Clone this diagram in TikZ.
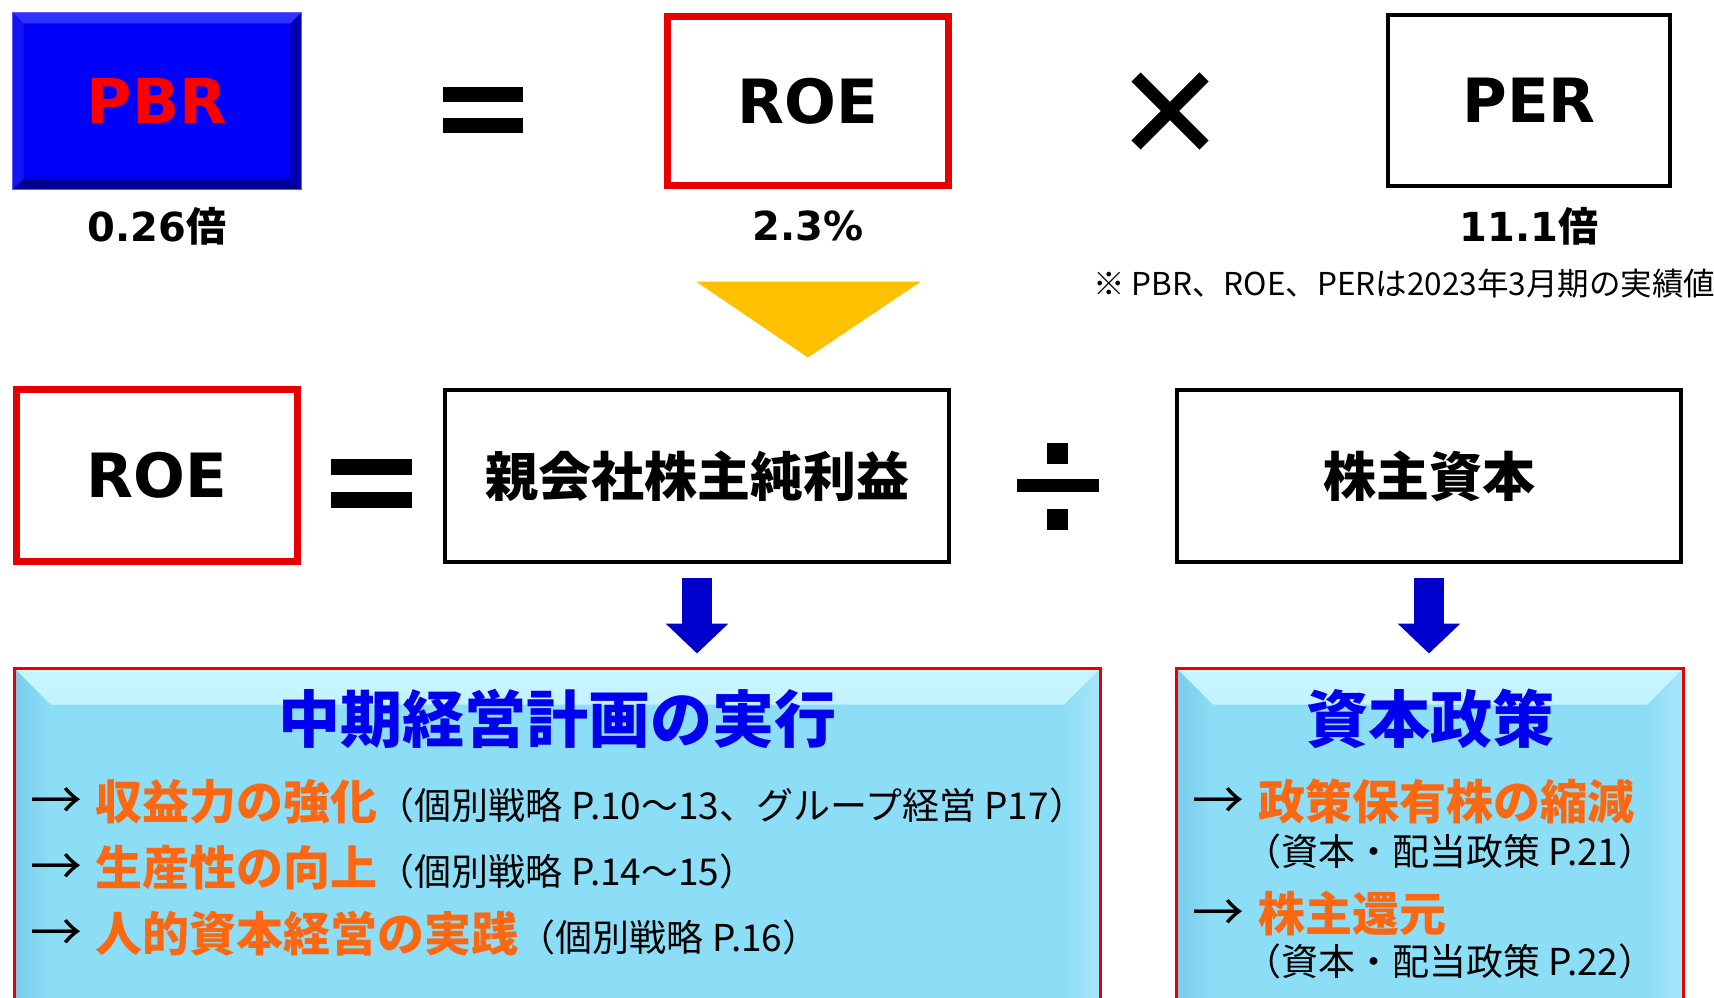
\documentclass[tikz,border=0pt]{standalone}
\usepackage{fontspec}
\setmainfont{DejaVu Sans}
\newfontfamily\jp{Noto Sans CJK JP}
\usetikzlibrary{arrows.meta,calc}
\definecolor{pbrblue}{RGB}{0,0,250}
\definecolor{pbrline}{RGB}{90,90,255}
\definecolor{pbrtop}{RGB}{50,50,255}
\definecolor{pbrleft}{RGB}{20,20,245}
\definecolor{pbrright}{RGB}{0,0,175}
\definecolor{pbrbottom}{RGB}{0,0,150}
\definecolor{pbrred}{RGB}{255,0,0}
\definecolor{boxred}{RGB}{232,0,0}
\definecolor{boxcyan}{RGB}{140,221,246}
\definecolor{bevtop}{RGB}{200,245,255}
\definecolor{bevleft}{RGB}{122,204,234}
\definecolor{bevright}{RGB}{170,230,250}
\definecolor{orng}{RGB}{252,104,18}
\definecolor{titleblue}{RGB}{0,0,238}
\definecolor{arrowblue}{RGB}{0,0,204}
\definecolor{ylw}{RGB}{255,192,0}
\newcommand\orangetxt[1]{{\fontsize{47}{54}\selectfont\bfseries\color{orng}#1}}
\newcommand\itemarrow{{\fontsize{52}{58}\selectfont →\hspace{14pt}}}
\begin{document}
\begin{tikzpicture}[x=1pt,y=-1pt,
  every node/.style={inner sep=0pt, outer sep=0pt},
  opbox/.style={draw=black, line width=4pt, fill=white},
  redbox/.style={draw=boxred, line width=7pt, fill=white},
  pbrbox/.style={draw=pbrline, line width=1.5pt, fill=pbrblue,
    path picture={
      \fill[pbrtop] (path picture bounding box.north west) -- (path picture bounding box.north east) -- ++(-11,11) -- ($(path picture bounding box.north west)+(11,11)$) -- cycle;
      \fill[pbrbottom] (path picture bounding box.south west) -- (path picture bounding box.south east) -- ++(-11,-11) -- ($(path picture bounding box.south west)+(11,-11)$) -- cycle;
      \fill[pbrleft] (path picture bounding box.north west) -- ++(11,11) -- ($(path picture bounding box.south west)+(11,-11)$) -- (path picture bounding box.south west) -- cycle;
      \fill[pbrright] (path picture bounding box.north east) -- ++(-11,11) -- ($(path picture bounding box.south east)+(-11,-11)$) -- (path picture bounding box.south east) -- cycle;
    }},
  cyanbox/.style={draw=boxred, line width=3pt, fill=boxcyan, anchor=north west,
    minimum height=380,
    path picture={
      \shade[top color=bevtop, bottom color=boxcyan] (path picture bounding box.north west) -- (path picture bounding box.north east) -- ++(-36,36) -- ($(path picture bounding box.north west)+(36,36)$) -- cycle;
      \shade[left color=bevleft, right color=boxcyan] (path picture bounding box.north west) -- ++(36,36) -- ($(path picture bounding box.south west)+(36,-36)$) -- (path picture bounding box.south west) -- cycle;
      \shade[left color=boxcyan, right color=bevright] (path picture bounding box.north east) -- ++(-36,36) -- ($(path picture bounding box.south east)+(-36,-36)$) -- (path picture bounding box.south east) -- cycle;
    }},
  bigword/.style={font=\fontsize{61}{66}\selectfont\bfseries},
  jpword/.style={font=\jp\fontsize{53}{60}\selectfont\bfseries},
  valuetxt/.style={font=\fontsize{40}{46}\selectfont\bfseries},
  titletxt/.style={font=\jp\fontsize{62}{70}\selectfont\bfseries, text=titleblue, anchor=base},
  itemtxt/.style={font=\jp\fontsize{37}{44}\selectfont, anchor=base west},
  opfill/.style={fill=black},
  bigarrow/.style={draw=arrowblue, line width=30pt, -{Triangle[length=30pt,width=61pt]}, shorten <=16pt, shorten >=15pt}
]
\useasboundingbox (0,0) rectangle (1714,998);
\clip (0,0) rectangle (1714,998);

% top row
\node[pbrbox, minimum width=289, minimum height=177] (pbr) at (157,101) {\fontsize{62}{70}\selectfont\bfseries\color{pbrred}PBR};
\node[valuetxt] (pbrval) at (157,226) {0.26{\jp 倍}};
\fill[opfill] (443,87) rectangle (523,102);
\fill[opfill] (443,118) rectangle (523,133);
\node[redbox, minimum width=281, minimum height=169, bigword] (roeA) at (808,101) {ROE};
\node[valuetxt] (roeval) at (808,226) {2.3\%};
\draw[line width=13pt] (1136,77) -- (1204,145);
\draw[line width=13pt] (1204,77) -- (1136,145);
\node[opbox, minimum width=282, minimum height=171, bigword] (per) at (1529,100.5) {PER};
\node[valuetxt] (perval) at (1529,226) {11.1{\jp 倍}};
\node[font=\jp\fontsize{31.5}{37}\selectfont, anchor=west] (note) at (1093,284) {※ PBR、ROE、PERは2023年3月期の実績値};
\fill[ylw] ($(roeA.south)+(-112,96)$) -- ++(225,0) -- ($(roeA.south)+(0,172)$) -- cycle;

% middle row
\node[redbox, minimum width=281, minimum height=172, bigword] (roeB) at (157,475.5) {ROE};
\fill[opfill] (331,459) rectangle (412,475);
\fill[opfill] (331,492) rectangle (412,508);
\node[opbox, minimum width=504, minimum height=172, jpword] (ni) at (697,476) {親会社株主純利益};
\fill[opfill] (1017,479) rectangle (1099,492);
\fill[opfill] (1047,443) rectangle (1068,464);
\fill[opfill] (1047,509) rectangle (1068,530);
\node[opbox, minimum width=504, minimum height=172, jpword] (eq) at (1429,476) {株主資本};

% bottom boxes
\node[cyanbox, minimum width=1086] (plan) at (14.5,668.5) {};
\node[cyanbox, minimum width=507] (policy) at (1176.5,668.5) {};

\draw[bigarrow] (ni.south) -- (ni.south |- plan.north);
\draw[bigarrow] (eq.south) -- (eq.south |- policy.north);

\node[titletxt] (plantitle) at ($(plan.north)+(0,73.5)$) {中期経営計画の実行};
\node[titletxt] (policytitle) at ($(policy.north)+(0,73.5)$) {資本政策};

\node[itemtxt] (p1) at (30,819) {\itemarrow\orangetxt{収益力の強化}（個別戦略 P.10～13、グループ経営 P17）};
\node[itemtxt] (p2) at (30,885) {\itemarrow\orangetxt{生産性の向上}（個別戦略 P.14～15）};
\node[itemtxt] (p3) at (30,951) {\itemarrow\orangetxt{人的資本経営の実践}（個別戦略 P.16）};

\node[itemtxt] (c1) at (1192,819) {\itemarrow\orangetxt{政策保有株の縮減}};
\node[itemtxt] (c1s) at (1244,865) {（資本・配当政策 P.21）};
\node[itemtxt] (c2) at (1192,931) {\itemarrow\orangetxt{株主還元}};
\node[itemtxt] (c2s) at (1244,975) {（資本・配当政策 P.22）};
\end{tikzpicture}
\end{document}
